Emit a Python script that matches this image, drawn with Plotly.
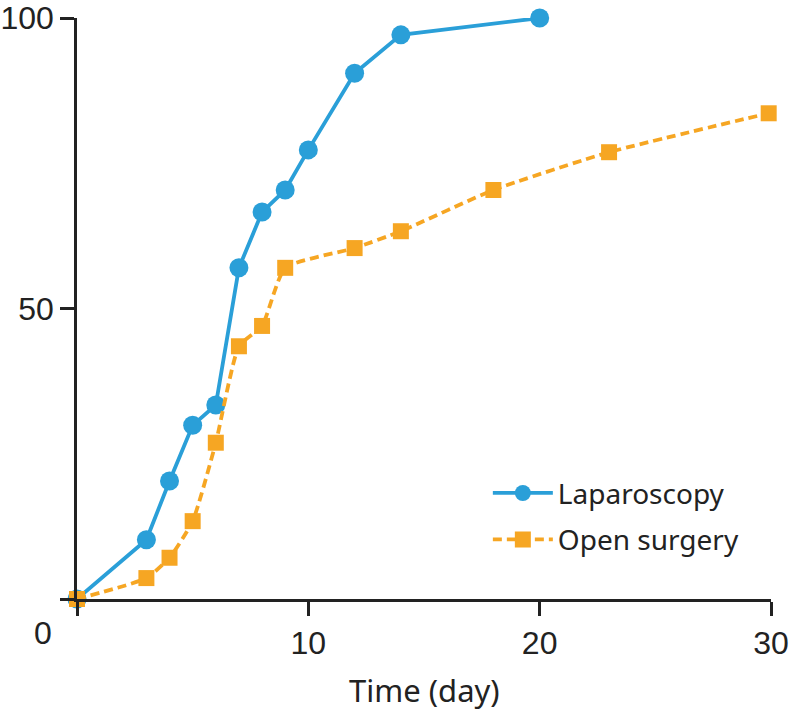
import plotly.graph_objects as go

# Data
lap_x = [0, 3, 4, 5, 6, 7, 8, 9, 10, 12, 14, 20]
lap_y = [0, 10.2, 20.3, 29.9, 33.4, 57.0, 66.6, 70.4, 77.3, 90.5, 97.1, 100]
open_x = [0, 3, 4, 5, 6, 7, 8, 9, 12, 14, 18, 23, 29.9]
open_y = [0, 3.6, 7.1, 13.4, 26.9, 43.5, 47.0, 57.0, 60.4, 63.3, 70.4, 76.9, 83.6]
x_ticks = [0, 10, 20, 30]
x_ticklabels = ["", "10", "20", "30"]
y_ticks = [0, 50, 100]
y_ticklabels = ["", "50", "100"]

BLUE = "#2A9FD8"
ORANGE = "#F6A623"
AXIS = "#222222"

fig = go.Figure()
fig.add_trace(go.Scatter(
    x=lap_x, y=lap_y, name="Laparoscopy", mode="lines+markers",
    line=dict(color=BLUE, width=3.8),
    marker=dict(symbol="circle", size=19, color=BLUE),
    cliponaxis=False, legendgroup="a",
))
fig.add_trace(go.Scatter(
    x=open_x, y=open_y, name="Open surgery", mode="lines+markers",
    line=dict(color=ORANGE, width=3.8, dash="9px,5px", shape="spline", smoothing=0.5),
    marker=dict(symbol="square", size=16, color=ORANGE),
    cliponaxis=False, legendgroup="b",
))

fig.update_layout(
    width=793, height=714,
    margin=dict(l=77, r=22, t=18, b=115, autoexpand=False),
    paper_bgcolor="white", plot_bgcolor="white",
    showlegend=True,
    legend=dict(
        x=0.592, y=0.225, xanchor="left", yanchor="top",
        font=dict(family="Noto Sans", size=28, color="#222222"),
        bgcolor="rgba(0,0,0,0)", tracegroupgap=7, itemwidth=60,
    ),
    xaxis=dict(
        range=[0, 30], tickvals=x_ticks, ticktext=x_ticklabels,
        showgrid=False, zeroline=False, automargin=False,
        showline=True, linecolor=AXIS, linewidth=2.5,
        ticks="outside", ticklen=14, tickwidth=2.5, tickcolor=AXIS,
        tickfont=dict(family="Liberation Sans", size=32, color="#222222"),
    ),
    yaxis=dict(
        range=[0, 100], tickvals=y_ticks, ticktext=y_ticklabels,
        showgrid=False, zeroline=False, automargin=False,
        showline=True, linecolor=AXIS, linewidth=2.5,
        ticks="outside", ticklen=14, tickwidth=2.5, tickcolor=AXIS,
        tickfont=dict(family="Liberation Sans", size=32, color="#222222"),
    ),
    annotations=[
        dict(text="0", xref="paper", yref="paper", x=-0.049, y=-0.0585,
             xanchor="center", yanchor="middle", showarrow=False,
             font=dict(family="Liberation Sans", size=32, color="#222222")),
        dict(text="Time (day)", xref="paper", yref="paper", x=0.5, y=-0.1566,
             xanchor="center", yanchor="middle", showarrow=False,
             font=dict(family="Noto Sans", size=31, color="#222222")),
    ],
)

fig.write_html("out.html", config={"displayModeBar": False},
               post_script="document.body.style.margin='0';")
